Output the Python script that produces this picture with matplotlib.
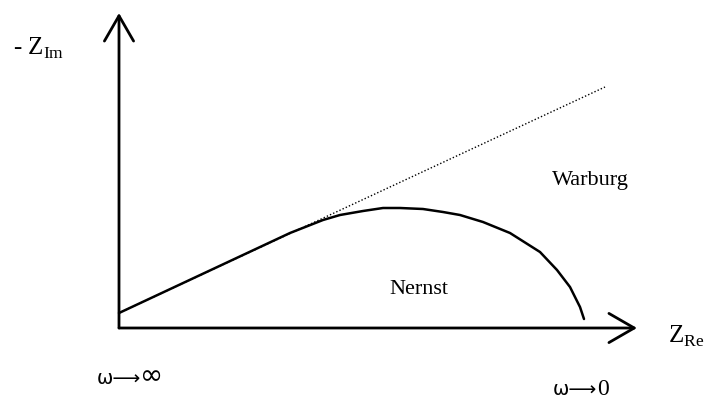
import numpy as np
import matplotlib.pyplot as plt
from matplotlib.patches import FancyArrowPatch

# impedance plane sketch: Warburg line and Nernst arc
warburg_x = [0, 486]
warburg_y = [15, 241]

nernst_x = [0, 171, 204, 221, 244, 264, 281, 304, 324, 341, 364, 391, 421, 438, 451, 461, 465]
nernst_y = [15, 95, 108, 113, 117, 120, 120, 119, 116, 113, 106, 95, 76, 58, 41, 21, 9]

x_axis_end = 518
y_axis_end = 315

plt.rcParams['font.family'] = ['Liberation Serif', 'DejaVu Serif', 'DejaVu Sans']

fig = plt.figure(figsize=(7.09, 4.01), dpi=100)
ax = fig.add_axes([0, 0, 1, 1])
ax.set_xlim(-119, 590)
ax.set_ylim(-73, 328)
ax.axis('off')

# axes with open arrowheads
for end in [(x_axis_end, 0), (0, y_axis_end)]:
    ax.add_patch(FancyArrowPatch((0, 0), end, arrowstyle='->,head_length=1.3,head_width=0.75',
                                 mutation_scale=14, lw=2.0, color='black',
                                 shrinkA=0, shrinkB=0))

# dotted Warburg asymptote and the Nernst curve on top of it
ax.plot(warburg_x, warburg_y, ls=(0, (1, 1.5)), lw=1.0, color='black')
ax.plot(nernst_x, nernst_y, lw=1.8, color='black', solid_joinstyle='round',
        solid_capstyle='round')

ax.text(-106, 273, r'- Z$_{\mathregular{Im}}$', fontsize=18, va='baseline', ha='left')
ax.text(549, -15, r'Z$_{\mathregular{Re}}$', fontsize=18, va='baseline', ha='left')
ax.text(471, 148, 'Warburg', fontsize=16, va='center', ha='center')
ax.text(300, 38, 'Nernst', fontsize=16, va='center', ha='center')

# frequency limits under the axis
ax.text(-22, -56, '\u03c9\u27f6', fontsize=14, va='baseline', ha='left',
        family=['DejaVu Sans'])
ax.text(21, -56, '\u221e', fontsize=20, va='baseline', ha='left',
        family=['DejaVu Sans'])
ax.text(434, -67, '\u03c9\u27f6', fontsize=14, va='baseline', ha='left',
        family=['DejaVu Sans'])
ax.text(478, -67, '0', fontsize=17, va='baseline', ha='left')

fig.savefig('out.png', dpi=100)
